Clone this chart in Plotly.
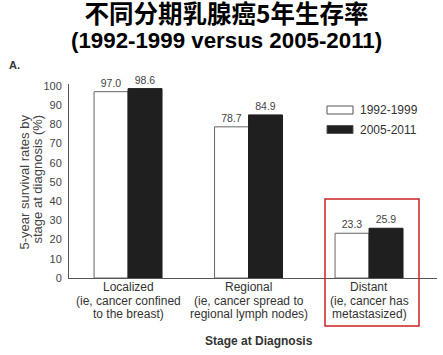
import plotly.graph_objects as go

# ---- data ----
categories = ["Localized", "Regional", "Distant"]
category_label_lines = [
    ["Localized", "(ie, cancer confined", "to the breast)"],
    ["Regional", "(ie, cancer spread to", "regional lymph nodes)"],
    ["Distant", "(ie, cancer has", "metastasized)"],
]
series_names = ["1992-1999", "2005-2011"]
values_1992_1999 = [97.0, 78.7, 23.3]
values_2005_2011 = [98.6, 84.9, 25.9]
y_ticks = [0, 10, 20, 30, 40, 50, 60, 70, 80, 90, 100]

title_line1 = "不同分期乳腺癌5年生存率"
title_line2 = "(1992-1999 versus 2005-2011)"
y_title_lines = ["5-year survival rates by", "stage at diagnosis (%)"]
x_title = "Stage at Diagnosis"

W, H = 443, 355
# plot area in page pixels
PX_LEFT, PX_RIGHT, PX_TOP, PX_BOTTOM = 69, 437, 84, 278
L, T, R, B = PX_LEFT, PX_TOP, W - PX_RIGHT, H - PX_BOTTOM
pw, ph = PX_RIGHT - PX_LEFT, PX_BOTTOM - PX_TOP

def px_x(p):
    return (p - PX_LEFT) / pw

def px_y(p):
    return (PX_BOTTOM - p) / ph

xpos = list(range(len(categories)))
FONT = "Liberation Sans, Arial, sans-serif"

fig = go.Figure()
fig.add_trace(go.Bar(
    x=xpos, y=values_1992_1999, name=series_names[0],
    marker=dict(color="white", line=dict(color="#666666", width=1)),
    text=[f"{v:.1f}" for v in values_1992_1999], textposition="outside",
    textfont=dict(size=10.5, color="#444444", family=FONT),
    cliponaxis=False, showlegend=False,
))
fig.add_trace(go.Bar(
    x=xpos, y=values_2005_2011, name=series_names[1],
    marker=dict(color="#1f1f1f", line=dict(color="#1f1f1f", width=1)),
    text=[f"{v:.1f}" for v in values_2005_2011], textposition="outside",
    textfont=dict(size=10.5, color="#444444", family=FONT),
    cliponaxis=False, showlegend=False,
))

fig.update_layout(
    width=W, height=H,
    margin=dict(l=L, r=R, t=T, b=B, pad=0),
    paper_bgcolor="white", plot_bgcolor="white",
    barmode="group", bargap=0.436, bargroupgap=0,
    font=dict(family=FONT, color="#333333"),
    xaxis=dict(
        range=[-0.49, 2.564], tickmode="array", tickvals=xpos, showticklabels=False,
        showline=True, linecolor="#555555", linewidth=1, showgrid=False, zeroline=False,
        ticks="",
    ),
    yaxis=dict(
        range=[0, 101], tickmode="array", tickvals=y_ticks,
        showline=True, linecolor="#555555", linewidth=1, showgrid=False, zeroline=False,
        ticks="", tickfont=dict(size=11, color="#444444", family=FONT),
        ticklabelstandoff=4,
    ),
)

title_text = (
    "<span style='font-size:24.5px'><b>" + title_line1 + "</b></span><br>"
    "<span style='font-family:Liberation Sans, Arial, sans-serif;font-size:22.3px'><b>"
    + title_line2 + "</b></span>"
)
annotations = [
    dict(text=title_text, x=px_x(226), xref="paper", y=px_y(24.5), yref="paper",
         xanchor="center", yanchor="middle", showarrow=False, borderpad=0,
         font=dict(size=19, color="black", family="Noto Sans CJK SC")),
    dict(text="<b>A.</b>", x=px_x(7), xref="paper", y=px_y(65), yref="paper",
         xanchor="left", yanchor="middle", showarrow=False,
         font=dict(size=11, color="#333333", family=FONT)),
    dict(text="<b>" + x_title + "</b>", x=px_x(259), xref="paper", y=px_y(341), yref="paper",
         xanchor="center", yanchor="middle", showarrow=False,
         font=dict(size=12, color="#333333", family=FONT)),
]
for i, line in enumerate(y_title_lines):
    annotations.append(dict(
        text=line, textangle=-90, x=px_x(24 + 13 * i), xref="paper",
        y=px_y(113), yref="paper", xanchor="center", yanchor="top", showarrow=False,
        font=dict(size=13, color="#444444", family=FONT)))

# category labels, one annotation per line
line_centers = [287, 300.5, 314]
for xi, lines in zip(xpos, category_label_lines):
    for line, yc in zip(lines, line_centers):
        annotations.append(dict(
            text=line, x=xi, xref="x", y=px_y(yc), yref="paper",
            xanchor="center", yanchor="middle", showarrow=False,
            font=dict(size=12, color="#333333", family=FONT)))

# legend (drawn manually to match wide rectangular swatches)
legend_fill = ["white", "#1f1f1f"]
legend_rows = [110, 129.5]
shapes = []
for name, fill, yc in zip(series_names, legend_fill, legend_rows):
    shapes.append(dict(type="rect", xref="paper", yref="paper",
                       x0=px_x(327), x1=px_x(353), y0=px_y(yc + 4), y1=px_y(yc - 4),
                       fillcolor=fill, line=dict(color="#555555", width=1)))
    annotations.append(dict(text=name, x=px_x(358), xref="paper", y=px_y(yc), yref="paper",
                            xanchor="left", yanchor="middle", showarrow=False,
                            font=dict(size=12, color="#333333", family=FONT)))

# red highlight box around the "Distant" group
shapes.append(dict(type="rect", xref="paper", yref="paper",
                   x0=px_x(325), x1=px_x(419), y0=px_y(326), y1=px_y(199),
                   fillcolor="rgba(0,0,0,0)", line=dict(color="#cc2020", width=1.5)))

fig.update_layout(annotations=annotations, shapes=shapes)
# remove the browser's default body margin so the figure fills the window exactly
fig.write_html("out.html", config={"displayModeBar": False},
               post_script="document.body.style.margin='0';")
